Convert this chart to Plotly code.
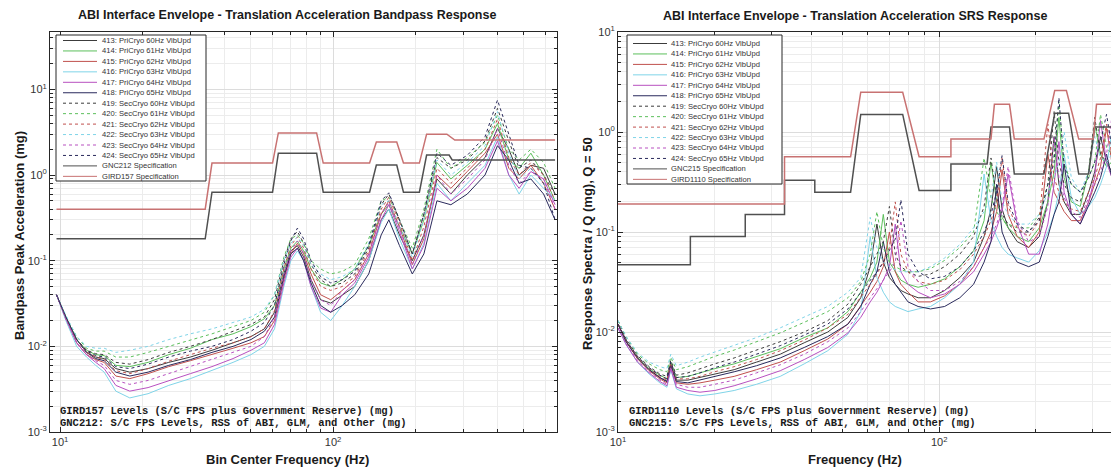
import plotly.graph_objects as go

# the page adds an 8 px body margin; the figure is sized so it fills the 1119x469 window
OFF = 8
W, H = 1119 - OFF, 469 - OFF

# ---------------- series meta ----------------
names = ["413: PriCryo 60Hz VibUpd", "414: PriCryo 61Hz VibUpd", "415: PriCryo 62Hz VibUpd",
         "416: PriCryo 63Hz VibUpd", "417: PriCryo 64Hz VibUpd", "418: PriCryo 65Hz VibUpd",
         "419: SecCryo 60Hz VibUpd", "420: SecCryo 61Hz VibUpd", "421: SecCryo 62Hz VibUpd",
         "422: SecCryo 63Hz VibUpd", "423: SecCryo 64Hz VibUpd", "424: SecCryo 65Hz VibUpd"]
colors = ["#3c3c3c", "#5cbf5c", "#c0504d", "#7fd4e8", "#b850c0", "#2a2a5c"] * 2
dashes = ["solid"] * 6 + ["dot"] * 6

# ---------------- left: bandpass response ----------------
bp_freq = [9.7, 10.5, 11.5, 12.5, 13.5, 14.5, 16, 18, 21, 25, 30, 36, 43, 50, 56, 61, 66, 70, 74, 78,
           83, 90, 98, 108, 120, 135, 150, 160, 175, 195, 215, 240, 270, 310, 360, 400, 440, 480, 530, 590, 650]
bp_413 = [0.040, 0.022, 0.012, 0.0085, 0.0075, 0.0072, 0.0055, 0.0050, 0.0055, 0.0065, 0.0075, 0.0090, 0.011, 0.013,
          0.016, 0.025, 0.07, 0.13, 0.15, 0.11, 0.06, 0.035, 0.032, 0.04, 0.05, 0.10, 0.30, 0.40, 0.20, 0.10, 0.20,
          0.90, 0.60, 1.0, 1.6, 3.5, 2.0, 1.0, 1.3, 1.2, 0.6]
bp_414 = [0.040, 0.022, 0.012, 0.0090, 0.0080, 0.0078, 0.0060, 0.0058, 0.0065, 0.0080, 0.0095, 0.012, 0.014, 0.017,
          0.021, 0.030, 0.08, 0.14, 0.17, 0.13, 0.08, 0.055, 0.05, 0.06, 0.08, 0.15, 0.35, 0.45, 0.25, 0.12, 0.30,
          1.4, 0.9, 1.3, 2.0, 4.0, 1.5, 1.2, 1.8, 1.0, 0.5]
bp_415 = [0.040, 0.021, 0.011, 0.0080, 0.0070, 0.0065, 0.0045, 0.0042, 0.0048, 0.0058, 0.0068, 0.0080, 0.0095, 0.011,
          0.013, 0.020, 0.06, 0.12, 0.16, 0.12, 0.07, 0.04, 0.035, 0.045, 0.06, 0.12, 0.35, 0.50, 0.25, 0.09, 0.18,
          1.0, 0.7, 1.1, 1.8, 3.0, 1.2, 0.9, 1.3, 0.8, 0.4]
bp_416 = [0.040, 0.020, 0.010, 0.0075, 0.0060, 0.0050, 0.0030, 0.0025, 0.0028, 0.0035, 0.0042, 0.0052, 0.0065, 0.0080,
          0.010, 0.016, 0.05, 0.10, 0.13, 0.10, 0.05, 0.025, 0.02, 0.03, 0.05, 0.10, 0.28, 0.40, 0.18, 0.08, 0.16,
          0.8, 0.5, 0.8, 1.3, 2.8, 1.0, 0.6, 1.0, 0.7, 0.5]
bp_417 = [0.040, 0.021, 0.011, 0.0080, 0.0065, 0.0055, 0.0035, 0.0030, 0.0033, 0.0040, 0.0048, 0.0058, 0.0072, 0.0090,
          0.011, 0.018, 0.055, 0.11, 0.14, 0.10, 0.05, 0.028, 0.025, 0.040, 0.055, 0.11, 0.30, 0.45, 0.22, 0.08, 0.15,
          0.7, 0.5, 0.7, 1.2, 2.5, 1.0, 0.7, 1.1, 0.9, 0.45]
bp_418 = [0.040, 0.022, 0.012, 0.0085, 0.0072, 0.0068, 0.0050, 0.0045, 0.0050, 0.0060, 0.0070, 0.0085, 0.010, 0.012,
          0.015, 0.022, 0.065, 0.12, 0.14, 0.10, 0.055, 0.03, 0.025, 0.03, 0.040, 0.07, 0.20, 0.30, 0.15, 0.07, 0.12,
          0.5, 0.45, 0.6, 1.0, 2.2, 1.5, 0.8, 0.9, 0.6, 0.3]
bp_419 = [0.040, 0.022, 0.012, 0.0090, 0.0082, 0.0080, 0.0065, 0.0062, 0.0070, 0.0085, 0.010, 0.012, 0.015, 0.018,
          0.022, 0.035, 0.10, 0.18, 0.22, 0.16, 0.09, 0.06, 0.05, 0.055, 0.07, 0.14, 0.45, 0.60, 0.30, 0.12, 0.35,
          1.6, 1.2, 1.5, 2.5, 6.0, 2.5, 1.2, 1.5, 1.0, 0.6]
bp_420 = [0.040, 0.022, 0.013, 0.0095, 0.0088, 0.0088, 0.0075, 0.0075, 0.0085, 0.010, 0.012, 0.014, 0.017, 0.020,
          0.025, 0.040, 0.11, 0.18, 0.20, 0.16, 0.10, 0.08, 0.07, 0.075, 0.09, 0.18, 0.50, 0.55, 0.30, 0.14, 0.40,
          2.0, 1.2, 1.6, 2.4, 5.0, 2.0, 1.5, 2.0, 1.4, 0.7]
bp_421 = [0.040, 0.021, 0.012, 0.0085, 0.0075, 0.0070, 0.0052, 0.0048, 0.0055, 0.0067, 0.0080, 0.0095, 0.011, 0.013,
          0.016, 0.026, 0.08, 0.15, 0.19, 0.14, 0.08, 0.05, 0.045, 0.05, 0.065, 0.13, 0.40, 0.55, 0.28, 0.10, 0.25,
          1.2, 0.8, 1.2, 2.0, 4.5, 1.6, 1.0, 1.4, 1.0, 0.5]
bp_422 = [0.040, 0.023, 0.013, 0.0100, 0.0095, 0.0095, 0.0085, 0.0090, 0.0100, 0.012, 0.014, 0.016, 0.019, 0.022,
          0.027, 0.040, 0.10, 0.16, 0.19, 0.15, 0.09, 0.07, 0.06, 0.065, 0.08, 0.16, 0.45, 0.50, 0.25, 0.11, 0.30,
          1.5, 1.0, 1.4, 2.2, 5.5, 1.8, 0.9, 1.2, 0.8, 0.5]
bp_423 = [0.040, 0.021, 0.011, 0.0080, 0.0068, 0.0060, 0.0040, 0.0036, 0.0040, 0.0048, 0.0058, 0.0070, 0.0085, 0.010,
          0.013, 0.022, 0.07, 0.13, 0.17, 0.12, 0.06, 0.035, 0.03, 0.045, 0.06, 0.12, 0.35, 0.48, 0.24, 0.09, 0.20,
          1.0, 0.6, 0.9, 1.5, 3.5, 1.3, 0.8, 1.1, 0.9, 0.4]
bp_424 = [0.040, 0.022, 0.012, 0.0088, 0.0078, 0.0075, 0.0058, 0.0055, 0.0062, 0.0075, 0.0088, 0.010, 0.012, 0.015,
          0.019, 0.030, 0.09, 0.17, 0.24, 0.18, 0.10, 0.065, 0.055, 0.06, 0.075, 0.15, 0.50, 0.62, 0.30, 0.12, 0.35,
          1.8, 1.3, 1.7, 2.8, 7.5, 3.0, 1.3, 1.2, 0.8, 0.3]
bp_series = [bp_413, bp_414, bp_415, bp_416, bp_417, bp_418, bp_419, bp_420, bp_421, bp_422, bp_423, bp_424]

gird157_freq = [9.7, 34, 36, 60, 63, 87, 92, 136, 144, 171, 181, 207, 220, 261, 279, 650]
gird157_val = [0.40, 0.40, 1.38, 1.38, 3.1, 3.1, 1.38, 1.38, 2.43, 2.43, 1.38, 1.38, 3.0, 3.0, 2.56, 2.56]
gnc212_freq = [9.7, 34, 36, 60, 63, 87, 92, 136, 144, 171, 181, 207, 220, 266, 273, 650]
gnc212_val = [0.18, 0.18, 0.63, 0.63, 1.8, 1.8, 0.63, 0.63, 1.31, 1.31, 0.63, 0.63, 1.71, 1.71, 1.5, 1.5]

# ---------------- right: SRS response ----------------
srs_freq = [10, 10.6, 11.5, 12.5, 13.5, 14.2, 14.6, 15.2, 16.5, 18, 20, 23, 27, 32, 38, 45, 52, 57,
            61, 64, 67, 70, 73, 76, 80, 86, 94, 104, 116, 128, 138, 145, 151, 157, 164, 175, 190, 205,
            218, 228, 236, 245, 258, 275, 292, 305, 318, 332, 345, 367]
srs_413 = [0.012, 0.008, 0.0055, 0.0042, 0.0035, 0.0032, 0.0048, 0.0033, 0.0033, 0.0035, 0.0038, 0.0042, 0.005, 0.006,
           0.0078, 0.010, 0.014, 0.022,
           0.045, 0.12, 0.05, 0.035, 0.03, 0.026, 0.024, 0.022,
           0.022, 0.026, 0.035, 0.05,
           0.09, 0.17, 0.45, 0.17, 0.11, 0.08,
           0.07, 0.09,
           0.2, 0.9, 0.3, 0.2, 0.15,
           0.15,
           0.25, 0.4, 0.9, 0.5, 0.4,
           0.35]
srs_414 = [0.012, 0.008, 0.0056, 0.0043, 0.0037, 0.0034, 0.005, 0.0035, 0.0036, 0.0039, 0.0043, 0.0048, 0.0057, 0.0068,
           0.0088, 0.011, 0.016, 0.025,
           0.035, 0.05, 0.15, 0.05, 0.04, 0.033, 0.03, 0.028,
           0.03, 0.034, 0.045, 0.065,
           0.13, 0.5, 0.2, 0.14, 0.11, 0.09,
           0.08, 0.11,
           0.2, 0.4, 1.4, 0.35, 0.2,
           0.18,
           0.4, 1.2, 0.6, 0.45, 0.5,
           0.45]
srs_415 = [0.012, 0.008, 0.0054, 0.0041, 0.0034, 0.0031, 0.0046, 0.0031, 0.003, 0.0031, 0.0033, 0.0036, 0.0042, 0.005,
           0.0065, 0.0085, 0.012, 0.018,
           0.025, 0.032, 0.045, 0.10, 0.04, 0.03, 0.025, 0.02,
           0.02, 0.023, 0.03, 0.045,
           0.07, 0.1, 0.16, 0.42, 0.15, 0.09,
           0.07, 0.1,
           0.6, 0.25, 0.2, 0.16, 0.13,
           0.13,
           0.2, 0.3, 0.45, 1.1, 0.5,
           0.4]
srs_416 = [0.011, 0.0075, 0.005, 0.0038, 0.0031, 0.0028, 0.0042, 0.0027, 0.0024, 0.0023, 0.0024, 0.0026, 0.003, 0.0036,
           0.0048, 0.0065, 0.0095, 0.016,
           0.09, 0.035, 0.025, 0.02, 0.018, 0.017, 0.016, 0.017,
           0.018, 0.022, 0.03, 0.05,
           0.38, 0.13, 0.09, 0.07, 0.06, 0.055,
           0.05, 0.065,
           0.1, 0.15, 0.25, 0.6, 0.22,
           0.15,
           0.18, 0.22, 0.3, 0.45, 1.0,
           0.5]
srs_417 = [0.011, 0.0075, 0.005, 0.0039, 0.0032, 0.0029, 0.0043, 0.0028, 0.0026, 0.0025, 0.0026, 0.0029, 0.0034, 0.0041,
           0.0053, 0.007, 0.0098, 0.014,
           0.02, 0.025, 0.033, 0.045, 0.12, 0.04, 0.03, 0.025,
           0.022, 0.024, 0.03, 0.04,
           0.06, 0.08, 0.11, 0.16, 0.38, 0.12,
           0.06, 0.06,
           0.12, 0.3, 0.8, 0.25, 0.15,
           0.12,
           0.2, 0.35, 1.3, 0.5, 0.35,
           0.3]
srs_418 = [0.012, 0.008, 0.0055, 0.0042, 0.0035, 0.0032, 0.0047, 0.0032, 0.0031, 0.0033, 0.0036, 0.004, 0.0046, 0.0055,
           0.007, 0.009, 0.012, 0.018,
           0.03, 0.04, 0.08, 0.04, 0.03, 0.025, 0.02, 0.018,
           0.017, 0.018, 0.022, 0.03,
           0.05, 0.08, 0.3, 0.1, 0.07, 0.05,
           0.045, 0.05,
           0.09, 0.15, 0.2, 0.48, 0.15,
           0.12,
           0.18, 0.25, 0.35, 0.6, 0.35,
           0.28]
srs_419 = [0.013, 0.0085, 0.0058, 0.0045, 0.0038, 0.0036, 0.0052, 0.0037, 0.0039, 0.0043, 0.0048, 0.0055, 0.0066, 0.008,
           0.010, 0.013, 0.019, 0.03,
           0.045, 0.06, 0.08, 0.18, 0.06, 0.045, 0.04, 0.036,
           0.038, 0.045, 0.06, 0.09,
           0.18, 0.55, 0.22, 0.15, 0.12, 0.1,
           0.1, 0.14,
           0.3, 1.6, 0.5, 0.3, 0.22,
           0.2,
           0.4, 1.4, 0.6, 0.5, 0.55,
           0.5]
srs_420 = [0.013, 0.009, 0.006, 0.0048, 0.0042, 0.004, 0.0056, 0.0042, 0.0045, 0.005, 0.0057, 0.0066, 0.008, 0.0098,
           0.0125, 0.016, 0.022, 0.032,
           0.06, 0.16, 0.07, 0.05, 0.045, 0.042, 0.04, 0.04,
           0.043, 0.052, 0.07, 0.1,
           0.55, 0.22, 0.16, 0.13, 0.12, 0.11,
           0.11, 0.15,
           0.3, 0.6, 2.0, 0.5, 0.3,
           0.25,
           0.35, 0.5, 1.5, 0.7, 0.6,
           0.6]
srs_421 = [0.012, 0.0082, 0.0056, 0.0043, 0.0036, 0.0033, 0.0049, 0.0034, 0.0034, 0.0036, 0.004, 0.0045, 0.0053, 0.0065,
           0.0083, 0.011, 0.015, 0.022,
           0.03, 0.038, 0.05, 0.07, 0.2, 0.06, 0.04, 0.032,
           0.03, 0.033, 0.042, 0.06,
           0.09, 0.13, 0.2, 0.55, 0.18, 0.11,
           0.09, 0.13,
           1.2, 0.35, 0.25, 0.2, 0.17,
           0.16,
           0.25, 0.35, 0.55, 1.2, 0.6,
           0.45]
srs_422 = [0.013, 0.009, 0.0062, 0.005, 0.0045, 0.0043, 0.006, 0.0046, 0.005, 0.0056, 0.0063, 0.0073, 0.0088, 0.011,
           0.014, 0.018, 0.025, 0.035,
           0.14, 0.07, 0.05, 0.045, 0.042, 0.04, 0.04, 0.04,
           0.045, 0.055, 0.075, 0.11,
           0.16, 0.22, 0.5, 0.2, 0.15, 0.12,
           0.12, 0.15,
           0.25, 0.35, 0.5, 1.0, 0.35,
           0.25,
           0.4, 0.9, 0.55, 0.5, 0.6,
           0.7]
srs_423 = [0.011, 0.0076, 0.0052, 0.004, 0.0033, 0.003, 0.0044, 0.003, 0.0028, 0.0028, 0.003, 0.0033, 0.0039, 0.0047,
           0.006, 0.008, 0.011, 0.016,
           0.022, 0.027, 0.033, 0.04, 0.05, 0.13, 0.045, 0.032,
           0.026, 0.026, 0.032, 0.045,
           0.07, 0.09, 0.12, 0.18, 0.45, 0.13,
           0.08, 0.09,
           0.18, 0.9, 0.35, 0.22, 0.16,
           0.14,
           0.22, 0.3, 0.4, 0.6, 1.4,
           0.5]
srs_424 = [0.012, 0.0083, 0.0057, 0.0044, 0.0037, 0.0034, 0.005, 0.0035, 0.0036, 0.0039, 0.0044, 0.005, 0.006, 0.0073,
           0.0093, 0.012, 0.017, 0.025,
           0.033, 0.04, 0.05, 0.065, 0.085, 0.21, 0.06, 0.04,
           0.034, 0.036, 0.045, 0.065,
           0.1, 0.15, 0.25, 0.58, 0.2, 0.12,
           0.1, 0.13,
           0.3, 0.5, 2.2, 0.45, 0.3,
           0.25,
           0.35, 0.5, 0.8, 1.5, 0.7,
           0.6]
srs_series = [srs_413, srs_414, srs_415, srs_416, srs_417, srs_418, srs_419, srs_420, srs_421, srs_422, srs_423, srs_424]

gird1110_freq = [10, 33, 33, 53, 57, 77, 86.6, 108.8, 108.8, 145, 148.6, 165.6, 171.4, 212, 229, 249, 272, 302, 309, 345, 367]
gird1110_val = [0.19, 0.19, 0.565, 0.565, 2.5, 2.5, 0.565, 0.565, 0.85, 0.85, 1.89, 1.89, 0.85, 0.85, 2.6, 2.6, 0.85, 0.85, 1.89, 1.89, 1.0]
gnc215_freq = [10, 16.8, 16.8, 24.9, 24.9, 33, 33, 41, 41, 53, 57, 77, 86.6, 108.8, 108.8, 141, 145, 165.6, 171.4,
               212, 229, 253, 272, 292, 305, 367]
gnc215_val = [0.047, 0.047, 0.09, 0.09, 0.15, 0.15, 0.33, 0.33, 0.25, 0.25, 1.5, 1.5, 0.26, 0.26, 0.48, 0.48, 1.12,
              1.12, 0.38, 0.38, 1.54, 1.54, 0.38, 0.38, 1.12, 1.12]

spec_color_lo = "#505050"
spec_color_hi = "#c87272"

# ---------------- figure ----------------
fig = go.Figure()

def add_set(freqs, series, xa, ya):
    for nm, vals, c, d in zip(names, series, colors, dashes):
        fig.add_trace(go.Scatter(x=freqs, y=vals, mode="lines", name=nm, xaxis=xa, yaxis=ya,
                                 line=dict(color=c, width=1, dash=d), showlegend=False))

add_set(bp_freq, bp_series, "x", "y")
fig.add_trace(go.Scatter(x=gnc212_freq, y=gnc212_val, mode="lines", name="GNC212 Specification",
                         xaxis="x", yaxis="y", line=dict(color=spec_color_lo, width=1.5), showlegend=False))
fig.add_trace(go.Scatter(x=gird157_freq, y=gird157_val, mode="lines", name="GIRD157 Specification",
                         xaxis="x", yaxis="y", line=dict(color=spec_color_hi, width=1.5), showlegend=False))

add_set(srs_freq, srs_series, "x2", "y2")
fig.add_trace(go.Scatter(x=gnc215_freq, y=gnc215_val, mode="lines", name="GNC215 Specification",
                         xaxis="x2", yaxis="y2", line=dict(color=spec_color_lo, width=1.5), showlegend=False))
fig.add_trace(go.Scatter(x=gird1110_freq, y=gird1110_val, mode="lines", name="GIRD1110 Specification",
                         xaxis="x2", yaxis="y2", line=dict(color=spec_color_hi, width=1.5), showlegend=False))

# window pixel -> paper coordinate
def px(v):
    return (v - OFF) / W

def py(v):
    return 1 - (v - OFF) / H

def minor_vals(d0, d1):
    return [k * 10 ** n for n in range(d0, d1 + 1) for k in range(2, 10)]

axis_font = dict(family="Liberation Sans, Arial, sans-serif", size=11, color="#333333")
common = dict(type="log", showline=True, linecolor="#262626", linewidth=1, mirror="allticks",
              ticks="inside", ticklen=5, tickcolor="#262626", showgrid=True, gridcolor="#dcdcdc",
              gridwidth=1, zeroline=False, tickfont=axis_font, tickmode="array", automargin=False)

def minor(vals):
    return dict(tickvals=vals, showgrid=True, gridcolor="#ececec", ticks="inside", ticklen=3,
                tickcolor="#262626")

dec_txt = {-3: "10<sup>-3</sup>", -2: "10<sup>-2</sup>", -1: "10<sup>-1</sup>", 0: "10<sup>0</sup>",
           1: "10<sup>1</sup>", 2: "10<sup>2</sup>"}

y_dom = [py(432), py(32)]
fig.update_layout(
    width=W, height=H, margin=dict(l=0, r=0, t=0, b=0, autoexpand=False),
    paper_bgcolor="white", plot_bgcolor="white", showlegend=False,
    xaxis=dict(common, domain=[px(50), px(557)], range=[0.963, 2.82], anchor="y",
               tickvals=[10, 100], ticktext=[dec_txt[1], dec_txt[2]], minor=minor(minor_vals(0, 2))),
    yaxis=dict(common, domain=y_dom, range=[-3, 1.67], anchor="x",
               tickvals=[1e-3, 1e-2, 1e-1, 1, 10], ticktext=[dec_txt[i] for i in (-3, -2, -1, 0, 1)],
               minor=minor(minor_vals(-3, 1))),
    xaxis2=dict(common, domain=[px(618), 1.0], range=[1.0, 2.56], anchor="y2",
                tickvals=[10, 100], ticktext=[dec_txt[1], dec_txt[2]], minor=minor(minor_vals(1, 2))),
    yaxis2=dict(common, domain=y_dom, range=[-3, 1.0], anchor="x2",
                tickvals=[1e-3, 1e-2, 1e-1, 1, 10], ticktext=[dec_txt[i] for i in (-3, -2, -1, 0, 1)],
                minor=minor(minor_vals(-3, 0))),
)

sans = "Liberation Sans, Arial, sans-serif"
mono = "Liberation Mono, Courier New, monospace"
ann = []

def text(x, y, s, size, fam=sans, xanchor="center", angle=0, color="#1a1a1a"):
    ann.append(dict(x=px(x), y=py(y), xref="paper", yref="paper", text=s, showarrow=False,
                    xanchor=xanchor, yanchor="middle", textangle=angle,
                    font=dict(family=fam, size=size, color=color)))

# titles and axis labels
text(287, 15, "<b>ABI Interface Envelope - Translation Acceleration Bandpass Response</b>", 12.5)
text(855, 16, "<b>ABI Interface Envelope - Translation Acceleration SRS Response</b>", 12.5)
text(287, 459, "<b>Bin Center Frequency (Hz)</b>", 13)
text(855, 459, "<b>Frequency (Hz)</b>", 13)
text(19, 236, "<b>Bandpass Peak Acceleration (mg)</b>", 13, angle=-90)
text(587, 244, "<b>Response Spectra / Q (mg), Q = 50</b>", 13, angle=-90)

# footnotes
text(58, 411, "<b>GIRD157 Levels (S/C FPS plus Government Reserve) (mg)</b>", 10.5, fam=mono, xanchor="left")
text(58, 423, "<b>GNC212: S/C FPS Levels, RSS of ABI, GLM, and Other (mg)</b>", 10.5, fam=mono, xanchor="left")
text(627, 411, "<b>GIRD1110 Levels (S/C FPS plus Government Reserve) (mg)</b>", 10.5, fam=mono, xanchor="left")
text(627, 423, "<b>GNC215: S/C FPS Levels, RSS of ABI, GLM, and Other (mg)</b>", 10.5, fam=mono, xanchor="left")

# manual legends
shapes = []

def legend(box, first_y, step, x0, x1, xt, labels, cols, dsh):
    bx0, by0, bx1, by1 = box
    shapes.append(dict(type="rect", xref="paper", yref="paper", x0=px(bx0), x1=px(bx1), y0=py(by1), y1=py(by0),
                       fillcolor="white", line=dict(color="#262626", width=1), layer="above"))
    for i, (lab, c, d) in enumerate(zip(labels, cols, dsh)):
        yy = first_y + i * step
        shapes.append(dict(type="line", xref="paper", yref="paper", x0=px(x0), x1=px(x1), y0=py(yy), y1=py(yy),
                           line=dict(color=c, width=1, dash=d), layer="above"))
        text(xt, yy, lab, 7.6, xanchor="left", color="#333333")

legend((56, 35, 206, 181), 40.5, 10.45, 63, 97, 100,
       names + ["GNC212 Specification", "GIRD157 Specification"],
       colors + [spec_color_lo, spec_color_hi], dashes + ["solid", "solid"])
legend((627, 35, 782, 184), 43.5, 10.45, 633, 667, 669,
       names + ["GNC215 Specification", "GIRD1110 Specification"],
       colors + [spec_color_lo, spec_color_hi], dashes + ["solid", "solid"])

fig.update_layout(annotations=ann, shapes=shapes)
fig.write_html("out.html")
